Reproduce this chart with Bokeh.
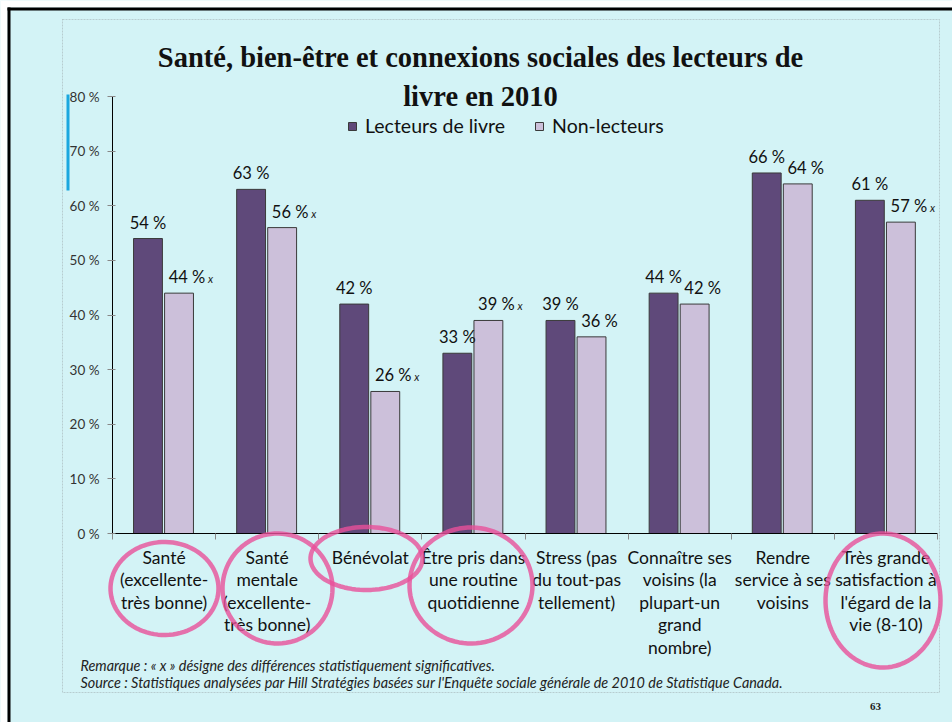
import numpy as np
from bokeh.plotting import figure
from bokeh.core.properties import value
from bokeh.models import (Range1d, LabelSet, Label, ColumnDataSource, FixedTicker,
                          BoxAnnotation, PolyAnnotation, Legend, LegendItem, LinearAxis)
from bokeh.embed import file_html
from bokeh.resources import INLINE

# ---------------- data ----------------
categories = [
    "Santé\n(excellente-\ntrès bonne)",
    "Santé\nmentale\n(excellente-\ntrès bonne)",
    "Bénévolat",
    "Être pris dans\nune routine\nquotidienne",
    "Stress (pas\ndu tout-pas\ntellement)",
    "Connaître ses\nvoisins (la\nplupart-un\ngrand\nnombre)",
    "Rendre\nservice à ses\nvoisins",
    "Très grande\nsatisfaction à\nl'égard de la\nvie (8-10)",
]
lecteurs = [54, 63, 42, 33, 39, 44, 66, 61]
non_lecteurs = [44, 56, 26, 39, 36, 42, 64, 57]
significatif = [True, True, True, True, False, False, False, True]
series_names = ["Lecteurs de livre", "Non-lecteurs"]
y_ticks = [0, 10, 20, 30, 40, 50, 60, 70, 80]
y_tick_labels = ["0 %", "10 %", "20 %", "30 %", "40 %", "50 %", "60 %", "70 %", "80 %"]
title_lines = ["Santé, bien-être et connexions sociales des lecteurs de", "livre en 2010"]
note_text = "Remarque : « x » désigne des différences statistiquement significatives."
source_text = ("Source : Statistiques analysées par Hill Stratégies basées sur l'Enquête "
               "sociale générale de 2010 de Statistique Canada.")
page_number = "63"

# ---------------- layout (page pixels) ----------------
W, H = 952, 722
FL, FT, FR, FB = 112, 96, 937, 533        # chart area
N = len(categories)
YMAX = 80
BG = "#d3f3f6"
DARK = "#5f497a"
LIGHT = "#ccc0da"
FONT = value("Lato")


def dx(px):
    return float((px - FL) / (FR - FL) * N)


def dy(py):
    return float((FB - py) / (FB - FT) * YMAX)


p = figure(width=W, height=H, output_backend="svg", toolbar_location=None,
           x_range=Range1d(dx(0), dx(W)), y_range=Range1d(dy(H), dy(0)),
           x_axis_type=None, y_axis_type=None,
           min_border_left=0, min_border_right=0, min_border_top=0, min_border_bottom=0)
p.background_fill_color = BG
p.border_fill_color = BG
p.outline_line_color = None
p.title.visible = False

# page edge: white margin + black border (top / left)
for l, r, t_, b, c in [(0, 7, 0, H, "white"), (0, W, 0, 7, "white"),
                       (7, 10, 7, H, "black"), (7, W, 7, 10, "black")]:
    p.add_layout(BoxAnnotation(left=dx(l), right=dx(r), top=dy(t_), bottom=dy(b),
                               fill_color=c, fill_alpha=1, line_color=None))
# inner dashed frame and blue marker
p.add_layout(BoxAnnotation(left=dx(62), right=dx(939), top=dy(19), bottom=dy(692),
                           fill_alpha=0, line_color="#777777", line_width=1, line_dash="2 1"))
p.add_layout(BoxAnnotation(left=dx(66), right=dx(69), top=dy(94), bottom=dy(190),
                           fill_color="#1ba7df", fill_alpha=1, line_color=None))

# axes drawn at data positions
yax = LinearAxis(fixed_location=0, bounds=(0, YMAX))
yax.ticker = FixedTicker(ticks=y_ticks)
yax.major_label_overrides = {t: l for t, l in zip(y_ticks, y_tick_labels)}
yax.major_label_text_font = "Lato"
yax.major_label_text_font_size = "13.5px"
yax.major_label_text_color = "#333333"
yax.major_label_standoff = 8
yax.major_tick_out = 5
yax.major_tick_in = 3
yax.major_tick_line_color = "#888888"
yax.minor_tick_line_color = None
yax.axis_line_color = "black"
p.add_layout(yax, "left")

xax = LinearAxis(fixed_location=0, bounds=(0, N))
xax.ticker = FixedTicker(ticks=list(range(N + 1)))
xax.major_label_text_color = None
xax.major_tick_out = 6
xax.major_tick_in = 0
xax.major_tick_line_color = "#888888"
xax.minor_tick_line_color = None
xax.axis_line_color = "black"
p.add_layout(xax, "below")

# bars
idx = np.arange(N)
BAR_W = 0.28
OFF_D, OFF_L = -0.156, 0.145
src = ColumnDataSource(dict(
    xd=idx + 0.5 + OFF_D, xl=idx + 0.5 + OFF_L,
    lect=lecteurs, non=non_lecteurs,
    td=[f"{v} %" for v in lecteurs], tl=[f"{v} %" for v in non_lecteurs],
))
r1 = p.vbar(x="xd", top="lect", width=BAR_W, source=src,
            fill_color=DARK, line_color="#3a3a3a", line_width=1)
r2 = p.vbar(x="xl", top="non", width=BAR_W, source=src,
            fill_color=LIGHT, line_color="#3a3a3a", line_width=1)

lab_kw = dict(text_font=FONT, text_font_size="16.5px", text_color="#111111",
              text_align="center", text_baseline="alphabetic")
p.add_layout(LabelSet(x="xd", y="lect", text="td", source=src, y_offset=10, **lab_kw))
p.add_layout(LabelSet(x="xl", y="non", text="tl", source=src, y_offset=10, x_offset=8, **lab_kw))

sig_src = ColumnDataSource(dict(
    x=[idx[i] + 0.5 + OFF_L for i in range(N) if significatif[i]],
    y=[non_lecteurs[i] for i in range(N) if significatif[i]],
    t=["x" for i in range(N) if significatif[i]],
))
p.add_layout(LabelSet(x="x", y="y", text="t", source=sig_src, x_offset=29, y_offset=10,
                      text_font=FONT, text_font_size="11px", text_font_style="italic",
                      text_color="#222222", text_align="left", text_baseline="alphabetic"))

# category labels, one centred line at a time
split = [c.split("\n") for c in categories]
LINE_H = 22.5
for k in range(max(len(s) for s in split)):
    xs = [i + 0.5 for i in range(N) if len(split[i]) > k]
    ts = [split[i][k] for i in range(N) if len(split[i]) > k]
    p.add_layout(LabelSet(x="x", y="y", text="t",
                          source=ColumnDataSource(dict(x=xs, y=[0] * len(xs), t=ts)),
                          y_offset=-30 - LINE_H * k,
                          text_font=FONT, text_font_size="17.5px", text_color="#111111",
                          text_align="center", text_baseline="alphabetic"))

# legend
legend = Legend(items=[LegendItem(label=series_names[0], renderers=[r1]),
                       LegendItem(label=series_names[1], renderers=[r2])],
                orientation="horizontal", location=(347, H - 137),
                padding=0, margin=0, spacing=29, label_standoff=8,
                glyph_width=10, glyph_height=10, label_height=10,
                label_text_font="Lato", label_text_font_size="19.5px",
                label_text_color="#111111",
                border_line_color=None, background_fill_alpha=0)
p.add_layout(legend)

# title
for line, base in zip(title_lines, [57, 96]):
    p.add_layout(Label(x=dx(480), y=dy(base), text=line, text_font="Liberation Serif",
                       text_font_style="bold", text_font_size="28.5px", text_color="#111111",
                       text_align="center", text_baseline="alphabetic"))

# notes
for line, base in zip([note_text, source_text], [665, 682]):
    p.add_layout(Label(x=dx(80), y=dy(base), text=line, text_font="Lato",
                       text_font_style="italic", text_font_size="14.4px", text_color="#222222",
                       text_align="left", text_baseline="alphabetic"))
p.add_layout(Label(x=dx(875), y=dy(706), text=page_number, text_font="Liberation Sans Narrow",
                   text_font_style="bold", text_font_size="11px", text_color="#222222",
                   text_align="center", text_baseline="alphabetic"))

# pink circles: (centre x, centre y, width, height) in page pixels
ellipses = [(164, 588, 108, 93), (277, 588, 110, 110), (366, 558, 112, 63),
            (470.5, 585, 123, 116), (882.5, 600, 115, 134)]
t = np.linspace(0, 2 * np.pi, 90)
for (cx, cy, w, h) in ellipses:
    xs = [dx(cx + w / 2 * np.cos(a)) for a in t]
    ys = [dy(cy + h / 2 * np.sin(a)) for a in t]
    p.add_layout(PolyAnnotation(xs=xs, ys=ys, fill_alpha=0, line_color="#e8509a",
                                line_alpha=0.8, line_width=4.5))

open("out.html", "w").write(file_html(p, INLINE))
